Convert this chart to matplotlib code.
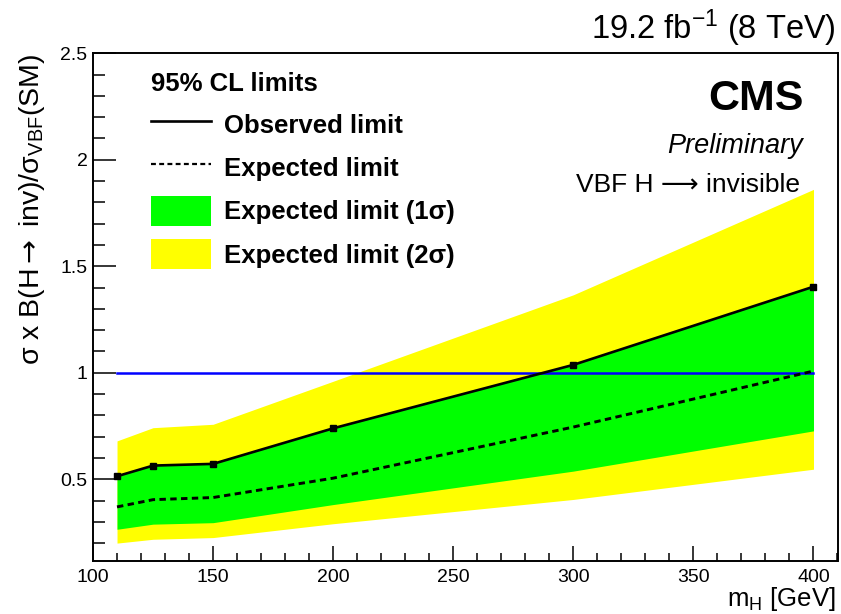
import numpy as np
import matplotlib
matplotlib.use("Agg")
import matplotlib.pyplot as plt
from matplotlib.lines import Line2D
from matplotlib.patches import Patch
from matplotlib.ticker import MultipleLocator

# 95% CL limits on VBF H -> invisible, 19.2 fb-1 at 8 TeV
mass = [110, 125, 150, 200, 300, 400]
observed = [0.514, 0.564, 0.572, 0.739, 1.037, 1.404]
expected = [0.370, 0.404, 0.414, 0.505, 0.745, 1.008]
band_1s_lo = [0.265, 0.289, 0.296, 0.381, 0.538, 0.727]
band_1s_hi = [0.520, 0.566, 0.575, 0.742, 1.040, 1.404]
band_2s_lo = [0.200, 0.218, 0.226, 0.291, 0.405, 0.547]
band_2s_hi = [0.680, 0.742, 0.758, 0.960, 1.366, 1.861]
sm_ratio = 1.0

y_ticks = [0.5, 1.0, 1.5, 2.0, 2.5]
y_ticklabels = ["0.5", "1", "1.5", "2", "2.5"]

plt.rcParams["font.family"] = ["Liberation Sans", "DejaVu Sans"]
plt.rcParams["mathtext.fontset"] = "custom"
plt.rcParams["mathtext.rm"] = "Liberation Sans"
plt.rcParams["mathtext.it"] = "Liberation Sans:italic"
plt.rcParams["mathtext.bf"] = "Liberation Sans:bold"
plt.rcParams["mathtext.sf"] = "DejaVu Sans"  # used only for the arrow

W, H = 841, 614
fig = plt.figure(figsize=(W / 100, H / 100), dpi=100)
ax = fig.add_axes([93 / W, 1 - 561 / H, (837.5 - 93) / W, (561 - 53.3) / H])

green = "#00ff00"
yellow = "#ffff00"
dash = (0, (2.2, 1.5))

ax.fill_between(mass, band_2s_lo, band_2s_hi, color=yellow, lw=0, zorder=1)
ax.fill_between(mass, band_1s_lo, band_1s_hi, color=green, lw=0, zorder=2)
ax.plot([mass[0], mass[-1]], [sm_ratio, sm_ratio], color="#0000ff", lw=1.8, zorder=3)
ax.plot(mass, expected, color="black", lw=2.1, ls=dash, zorder=4)
ax.plot(mass, observed, color="black", lw=1.9, marker="s", ms=4, zorder=5)

ax.set_xlim(100, 410)
ax.set_ylim(0.116, 2.5)

ax.xaxis.set_major_locator(MultipleLocator(50))
ax.xaxis.set_minor_locator(MultipleLocator(10))
ax.set_yticks(y_ticks)
ax.set_yticklabels(y_ticklabels)
ax.yaxis.set_minor_locator(MultipleLocator(0.1))

ax.tick_params(axis="both", which="both", direction="in", width=1.1,
               top=False, right=False, labelsize=14)
ax.tick_params(axis="x", which="major", length=11, pad=6)
ax.tick_params(axis="x", which="minor", length=5.5)
ax.tick_params(axis="y", which="major", length=16.5, pad=4)
ax.tick_params(axis="y", which="minor", length=8.5)
for sp in ax.spines.values():
    sp.set_linewidth(1.4)

# axis titles, ROOT style: flush to the end of each axis
fig.text(32 / W, 1 - 54 / H,
         "σ x B(H$\\mathsf{\\rightarrow}$ inv)/σ$_{\\rm VBF}$(SM)",
         rotation=90, ha="center", va="top", fontsize=20.5)
fig.text(836 / W, 1 - 606 / H, "m$_{\\rm H}$ [GeV]",
         ha="right", va="baseline", fontsize=18.5)

fig.text(836 / W, 1 - 39 / H, "19.2 fb$^{-1}$ (8 TeV)",
         ha="right", va="baseline", fontsize=23.5)
fig.text(804 / W, 1 - 110 / H, "CMS", ha="right", va="baseline",
         fontsize=31, fontweight="bold")
fig.text(803 / W, 1 - 153 / H, "Preliminary", ha="right", va="baseline",
         fontsize=19.5, fontstyle="italic")
fig.text(800 / W, 1 - 192 / H, "VBF H ⟶ invisible", ha="right",
         va="baseline", fontsize=19)

handles = [
    Line2D([], [], color="black", lw=1.9),
    Line2D([], [], color="black", lw=1.6, ls=dash),
    Patch(facecolor=green, edgecolor="none"),
    Patch(facecolor=yellow, edgecolor="none"),
]
labels = ["Observed limit", "Expected limit",
          "Expected limit (1σ)", "Expected limit (2σ)"]
leg = fig.legend(handles, labels, loc="upper left",
                 bbox_to_anchor=(151 / W, 1 - 72 / H),
                 frameon=False, title="95% CL limits",
                 title_fontproperties={"weight": "bold", "size": 18.5},
                 prop={"weight": "bold", "size": 18.5},
                 alignment="left", borderpad=0, borderaxespad=0,
                 handlelength=2.35, handleheight=1.45, handletextpad=0.5,
                 labelspacing=0.5)

fig.savefig("out.png", dpi=100)
